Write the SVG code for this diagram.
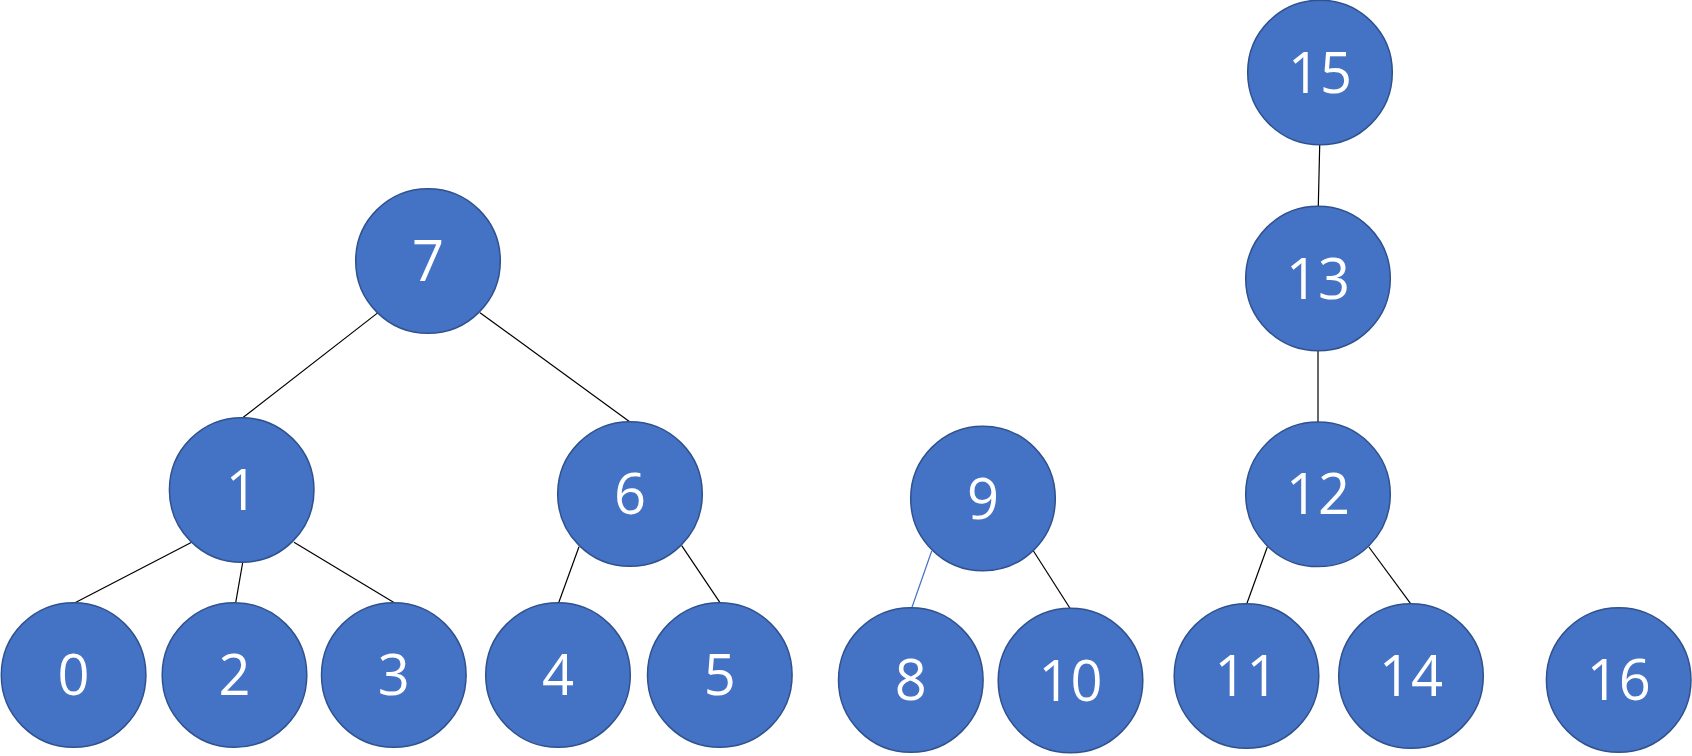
<svg xmlns="http://www.w3.org/2000/svg" width="1692" height="756" viewBox="0 0 1692 756">
<style>
.n path{fill:#4472C4;stroke:#2F528F;stroke-width:1.5}
.n text{fill:#FFFFFF;font-family:"Open Sans","Noto Sans","Liberation Sans",sans-serif;font-size:56px;text-anchor:middle}
.e line{stroke:#000000;stroke-width:1.2}
.e line.b{stroke:#4472C4}
</style>
<defs>
<path id="c" d="M-72.3 0A72.3 72.3 0 1 0 72.3 0A72.3 72.3 0 1 0 -72.3 0Z"/>
</defs>
<rect width="1692" height="756" fill="#FFFFFF"/>
<g id="connectors" class="e">
<line x1="377.7" y1="312.9" x2="243" y2="417.5"/>
<line x1="480" y1="312.7" x2="630" y2="422"/>
<line x1="191.7" y1="542.3" x2="75" y2="602.7"/>
<line x1="242.7" y1="562.5" x2="235.7" y2="602.7"/>
<line x1="294" y1="542.3" x2="394.3" y2="602.7"/>
<line x1="579" y1="546.7" x2="558.7" y2="602.7"/>
<line x1="681.7" y1="545.7" x2="720" y2="602.7"/>
<line class="b" x1="931.7" y1="551" x2="912" y2="607.3"/>
<line x1="1033.3" y1="550.7" x2="1070" y2="608.3"/>
<line x1="1319.7" y1="145" x2="1318.3" y2="206"/>
<line x1="1318" y1="351" x2="1318" y2="422"/>
<line x1="1267.3" y1="547" x2="1246.8" y2="603.8"/>
<line x1="1368.9" y1="547" x2="1410.8" y2="603.8"/>
</g>
<g id="n7" class="n"><path transform="translate(428 261)" d="M-72.3 0A72.3 72.3 0 1 0 72.3 0A72.3 72.3 0 1 0 -72.3 0Z"/><text x="428" y="281">7</text></g>
<g id="n1" class="n"><path transform="translate(241.7 490)" d="M-72.3 0A72.3 72.3 0 1 0 72.3 0A72.3 72.3 0 1 0 -72.3 0Z"/><text x="241.7" y="510">1</text></g>
<g id="n6" class="n"><path transform="translate(630 494)" d="M-72.3 0A72.3 72.3 0 1 0 72.3 0A72.3 72.3 0 1 0 -72.3 0Z"/><text x="630" y="514">6</text></g>
<g id="n0" class="n"><path transform="translate(73.6 675)" d="M-72.3 0A72.3 72.3 0 1 0 72.3 0A72.3 72.3 0 1 0 -72.3 0Z"/><text x="73.6" y="695">0</text></g>
<g id="n2" class="n"><path transform="translate(234.5 675)" d="M-72.3 0A72.3 72.3 0 1 0 72.3 0A72.3 72.3 0 1 0 -72.3 0Z"/><text x="234.5" y="695">2</text></g>
<g id="n3" class="n"><path transform="translate(393.8 675)" d="M-72.3 0A72.3 72.3 0 1 0 72.3 0A72.3 72.3 0 1 0 -72.3 0Z"/><text x="393.8" y="695">3</text></g>
<g id="n4" class="n"><path transform="translate(558 675)" d="M-72.3 0A72.3 72.3 0 1 0 72.3 0A72.3 72.3 0 1 0 -72.3 0Z"/><text x="558" y="695">4</text></g>
<g id="n5" class="n"><path transform="translate(719.8 675)" d="M-72.3 0A72.3 72.3 0 1 0 72.3 0A72.3 72.3 0 1 0 -72.3 0Z"/><text x="719.8" y="695">5</text></g>
<g id="n9" class="n"><path transform="translate(983 498.5)" d="M-72.3 0A72.3 72.3 0 1 0 72.3 0A72.3 72.3 0 1 0 -72.3 0Z"/><text x="983" y="518.5">9</text></g>
<g id="n8" class="n"><path transform="translate(910.8 680)" d="M-72.3 0A72.3 72.3 0 1 0 72.3 0A72.3 72.3 0 1 0 -72.3 0Z"/><text x="910.8" y="700">8</text></g>
<g id="n10" class="n"><path transform="translate(1070.5 680.5)" d="M-72.3 0A72.3 72.3 0 1 0 72.3 0A72.3 72.3 0 1 0 -72.3 0Z"/><text x="1070.5" y="700.5">10</text></g>
<g id="n15" class="n"><path transform="translate(1320 72.5)" d="M-72.3 0A72.3 72.3 0 1 0 72.3 0A72.3 72.3 0 1 0 -72.3 0Z"/><text x="1320" y="92.5">15</text></g>
<g id="n13" class="n"><path transform="translate(1318 278.5)" d="M-72.3 0A72.3 72.3 0 1 0 72.3 0A72.3 72.3 0 1 0 -72.3 0Z"/><text x="1318" y="298.5">13</text></g>
<g id="n12" class="n"><path transform="translate(1318 494.3)" d="M-72.3 0A72.3 72.3 0 1 0 72.3 0A72.3 72.3 0 1 0 -72.3 0Z"/><text x="1318" y="514.3">12</text></g>
<g id="n11" class="n"><path transform="translate(1246.5 676)" d="M-72.3 0A72.3 72.3 0 1 0 72.3 0A72.3 72.3 0 1 0 -72.3 0Z"/><text x="1246.5" y="696">11</text></g>
<g id="n14" class="n"><path transform="translate(1411 676)" d="M-72.3 0A72.3 72.3 0 1 0 72.3 0A72.3 72.3 0 1 0 -72.3 0Z"/><text x="1411" y="696">14</text></g>
<g id="n16" class="n"><path transform="translate(1618.7 680)" d="M-72.3 0A72.3 72.3 0 1 0 72.3 0A72.3 72.3 0 1 0 -72.3 0Z"/><text x="1618.7" y="700">16</text></g>
</svg>
